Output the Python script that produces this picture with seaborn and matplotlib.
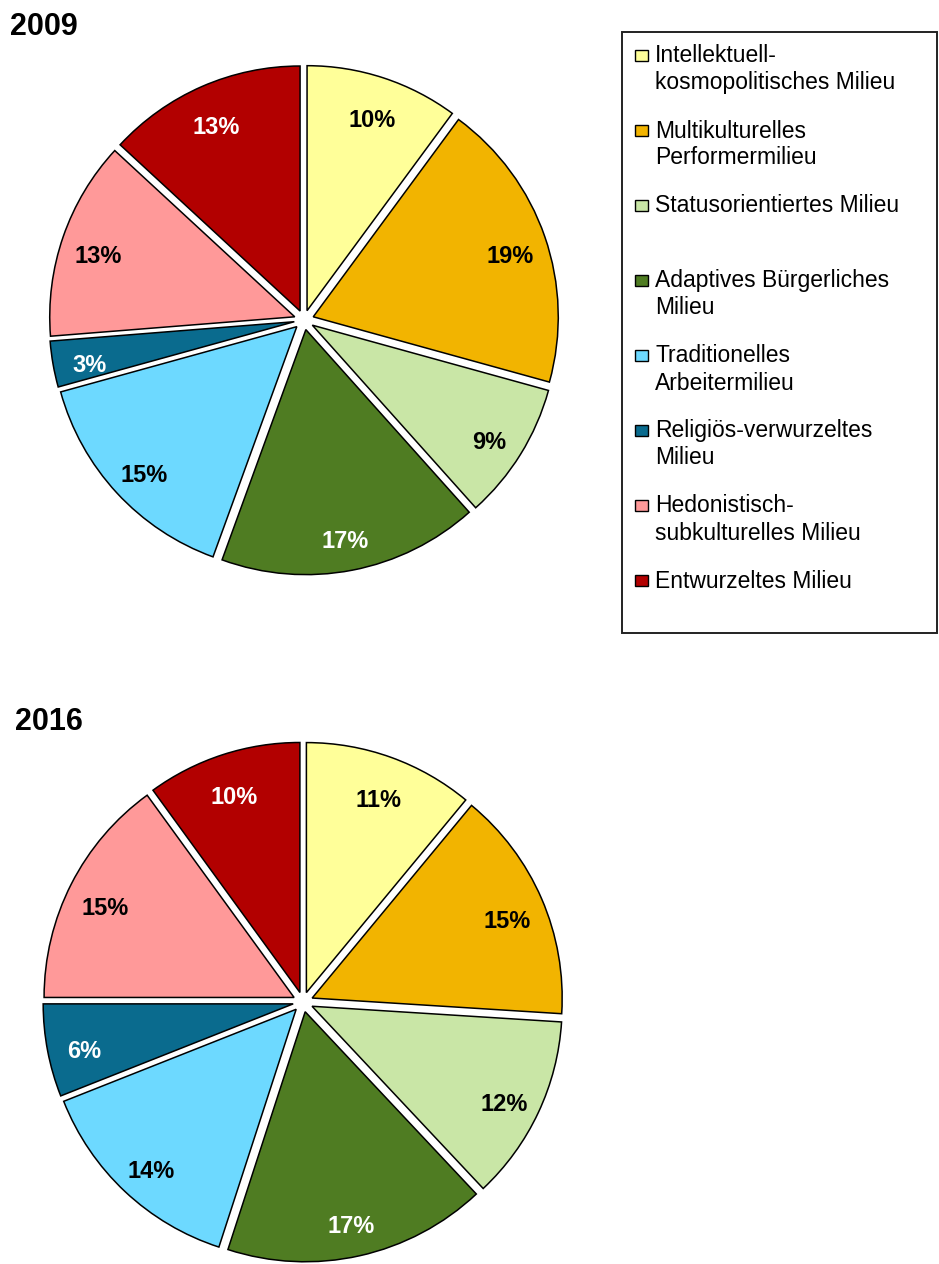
import matplotlib
matplotlib.use("Agg")
import matplotlib.pyplot as plt
from matplotlib.patches import Rectangle
import seaborn as sns

# Milieu categories (legend text, line breaks as displayed)
milieus = [
    "Intellektuell-\nkosmopolitisches Milieu",
    "Multikulturelles\nPerformermilieu",
    "Statusorientiertes Milieu",
    "Adaptives Bürgerliches\nMilieu",
    "Traditionelles\nArbeitermilieu",
    "Religiös-verwurzeltes\nMilieu",
    "Hedonistisch-\nsubkulturelles Milieu",
    "Entwurzeltes Milieu",
]
share_2009 = [10, 19, 9, 17, 15, 3, 13, 13]
share_2016 = [11, 15, 12, 17, 14, 6, 15, 10]
years = ["2009", "2016"]

colors = ["#FFFF99", "#F2B400", "#C9E6A6", "#4F7C22",
          "#6DD9FF", "#0A6B8E", "#FF9999", "#B20000"]
dark_fill = [False, False, False, True, False, True, False, True]

sns.set_theme(style="white")
plt.rcParams["font.family"] = ["Liberation Sans", "DejaVu Sans"]
plt.rcParams["text.color"] = "black"

W, H = 939, 1264
fig = plt.figure(figsize=(W / 100, H / 100), dpi=100)
fig.patch.set_facecolor("white")


def pie_axes(cx, cy, r, pad=1.2):
    half = pad * r
    return fig.add_axes([(cx - half) / W, (H - cy - half) / H,
                         2 * half / W, 2 * half / H])


def draw_pie(ax, values):
    total = sum(values)
    wedges, _, autotexts = ax.pie(
        values, colors=colors, startangle=90, counterclock=False,
        explode=[0.04] * len(values),
        autopct=lambda p: f"{p * total / 100:.0f}%", pctdistance=0.85,
        wedgeprops=dict(edgecolor="black", linewidth=1.1),
        textprops=dict(fontsize=17, fontweight="bold"),
    )
    for t, dark in zip(autotexts, dark_fill):
        t.set_color("white" if dark else "black")
        x, y = t.get_position()
        t.set_position((x, y - 0.03))
    ax.set_xlim(-1.2, 1.2)
    ax.set_ylim(-1.2, 1.2)
    ax.set_aspect("equal")
    ax.axis("off")


ax1 = pie_axes(304, 320, 245)
draw_pie(ax1, share_2009)
ax2 = pie_axes(303, 1002, 250)
draw_pie(ax2, share_2016)

# overlay in pixel coordinates for titles and the legend box
ov = fig.add_axes([0, 0, 1, 1], zorder=5)
ov.set_xlim(0, W)
ov.set_ylim(H, 0)
ov.axis("off")

ov.text(10, 35, years[0], fontsize=22, fontweight="bold", va="baseline",
        color="black")
ov.text(15, 730, years[1], fontsize=22, fontweight="bold", va="baseline",
        color="black")

ov.add_patch(Rectangle((622, 32), 315, 601, fill=False,
                       edgecolor="#222222", linewidth=1.4))
for i, (label, col) in enumerate(zip(milieus, colors)):
    y = 56 + 75 * i
    ov.add_patch(Rectangle((635, y - 6), 13, 11, facecolor=col,
                           edgecolor="black", linewidth=1.0))
    for k, line in enumerate(label.split("\n")):
        ov.text(655, y + 27 * k, line, fontsize=16.5, va="center",
                color="black")

fig.savefig("out.png", dpi=100, facecolor="white")
